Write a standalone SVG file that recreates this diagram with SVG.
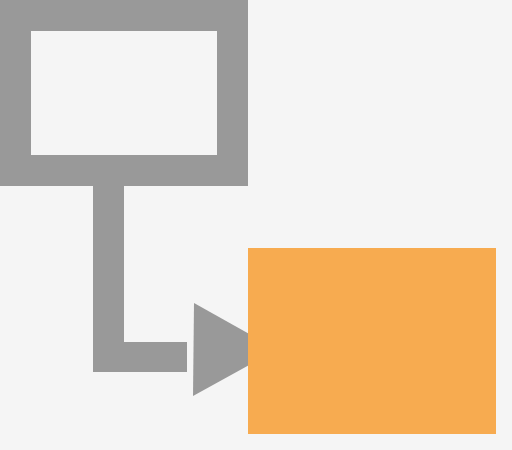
<svg xmlns="http://www.w3.org/2000/svg" width="512" height="450" viewBox="0 0 512 450">
<style>
.g{fill:#999999}
.o{fill:#f7ab50}
</style>
<rect width="512" height="450" fill="#f5f5f5"/>
<g id="connectors">
<rect class="g" x="93" y="186" width="31" height="186"/>
<rect class="g" x="93" y="342" width="94" height="30"/>
<polygon class="g" points="194,303 277,349.5 193,396"/>
</g>
<g id="node-source">
<path class="g" fill-rule="evenodd" d="M0,0H248V186H0Z M31,31V155H217V31Z"/>
</g>
<g id="node-target">
<rect class="o" x="248" y="248" width="248" height="186"/>
</g>
</svg>
